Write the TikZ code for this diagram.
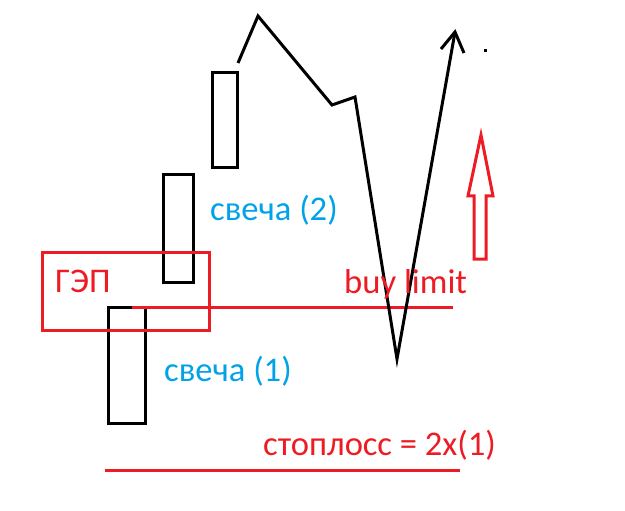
\documentclass[tikz,border=0pt]{standalone}
\usepackage{fontspec}
\setmainfont{Carlito}
\definecolor{pred}{RGB}{237,28,36}
\definecolor{pblue}{RGB}{0,162,232}
\begin{document}
\begin{tikzpicture}[x=1pt,y=-1pt,
  candle/.style={draw=black,line width=3pt,fill=none},
  redline/.style={draw=pred,line width=3pt},
  blacktrace/.style={draw=black,line width=3pt,line join=miter},
  lbl/.style={inner sep=0pt,anchor=base west,font=\fontsize{34.6}{38}\selectfont},
  bluelbl/.style={lbl,text=pblue},
  redlbl/.style={lbl,text=pred}]
\useasboundingbox[fill=white] (0,0) rectangle (625,511);
% candles
\draw[candle] (108.5,307.5) rectangle (145.5,423.5);
\draw[candle] (163.5,174.5) rectangle (193.5,282.5);
\draw[candle] (212.5,72.5) rectangle (237.5,167.5);
% gap box
\draw[redline] (42.5,252.5) rectangle (209.5,330.5);
% buy limit line
\coordinate (bl1) at (132,307.5);
\coordinate (bl2) at (453,307.5);
\draw[redline] (bl1) -- (bl2);
% stop loss line
\coordinate (sl1) at (105,470.3);
\coordinate (sl2) at (460,470.3);
\draw[redline] (sl1) -- (sl2);
% price path
\coordinate (p0) at (238,63);
\coordinate (p1) at (258,16);
\coordinate (p2) at (332,105);
\coordinate (p3) at (355,97);
\coordinate (p4) at (397,359);
\coordinate (p5) at (455,32);
\coordinate (hl) at (441,49);
\coordinate (hr) at (464,53);
\draw[blacktrace] (p0) -- (p1) -- (p2) -- (p3) -- (p4) -- (p5);
\draw[blacktrace] (hl) -- (p5) -- (hr);
\fill[black] (484,49) rectangle (487,52);
% red hollow arrow
\draw[draw=pred,line width=3pt,line join=miter]
  (481,135) -- (493,196) -- (486,196) -- (486,259) -- (474,259) -- (474,196) -- (468,196) -- cycle;
% labels
\node[redlbl] (gap) at (55,292.5) {ГЭП};
\node[redlbl] (buy) at (344,293) {buy limit};
\node[bluelbl] (sv1) at (164,381.5) {свеча (1)};
\node[bluelbl] (sv2) at (210,220.5) {свеча (2)};
\node[redlbl] (stop) at (263,455) {стоплосс = 2x(1)};
\end{tikzpicture}
\end{document}
